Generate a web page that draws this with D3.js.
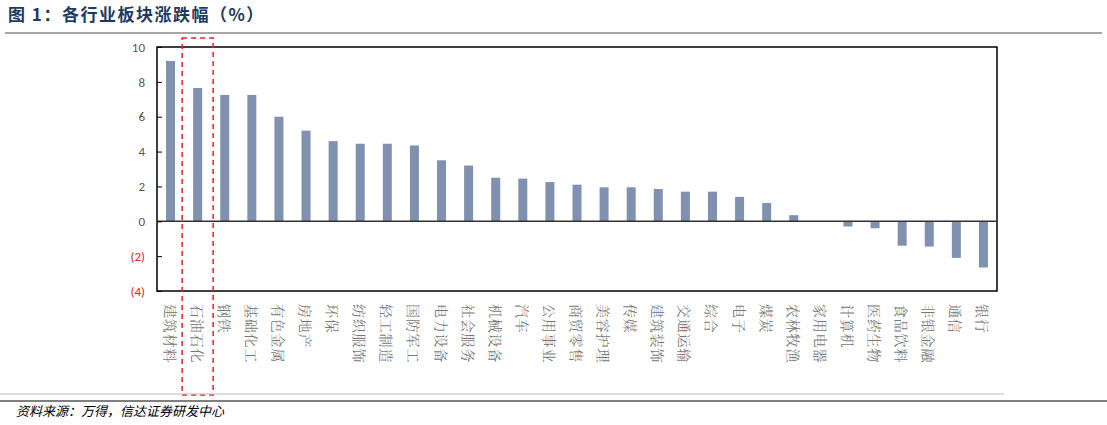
<!DOCTYPE html>
<html><head><meta charset="utf-8">
<script src="https://cdn.jsdelivr.net/npm/d3@7"></script>
<style>body{margin:0;background:#fff;}svg{display:block;font-family:"Noto Sans CJK SC",sans-serif;}</style>
</head><body><svg id="c" width="1107" height="425"></svg>
<script>
const categories=["建筑材料","石油石化","钢铁","基础化工","有色金属","房地产","环保","纺织服饰","轻工制造","国防军工","电力设备","社会服务","机械设备","汽车","公用事业","商贸零售","美容护理","传媒","建筑装饰","交通运输","综合","电子","煤炭","农林牧渔","家用电器","计算机","医药生物","食品饮料","非银金融","通信","银行"];
const values=[9.2,7.65,7.25,7.25,6.0,5.2,4.6,4.45,4.45,4.35,3.5,3.2,2.5,2.45,2.25,2.1,1.95,1.95,1.85,1.7,1.7,1.4,1.05,0.35,0.0,-0.3,-0.4,-1.4,-1.45,-2.1,-2.65];
const yTicks=[10,8,6,4,2,0,-2,-4];
const highlight="石油石化";

const svg=d3.select("#c");
const L=157,R=997,T=47,B=291;
const x=d3.scaleBand().domain(categories).range([L,R]);
const y=d3.scaleLinear().domain([-4,10]).range([B,T]);

svg.append("text").attr("x",8).attr("y",21).attr("fill","#1f3a5f").attr("font-size",17).attr("font-weight","bold").attr("letter-spacing",1.5).text("图 1：各行业板块涨跌幅（%）");
svg.append("line").attr("x1",5).attr("x2",1102).attr("y1",33).attr("y2",33).attr("stroke","#888").attr("stroke-width",1.5);

svg.selectAll("rect.bar").data(values).join("rect").attr("class","bar")
 .attr("x",(d,i)=>x(categories[i])+x.bandwidth()/2-4.5).attr("width",9)
 .attr("y",d=>y(Math.max(0,d))).attr("height",d=>Math.abs(y(d)-y(0)))
 .attr("fill","#8091b0");

svg.append("rect").attr("x",L).attr("y",T).attr("width",R-L).attr("height",B-T).attr("fill","none").attr("stroke","#000").attr("stroke-width",1.5);
svg.append("line").attr("x1",L).attr("x2",R).attr("y1",y(0)).attr("y2",y(0)).attr("stroke","#333").attr("stroke-width",1.5);

const ya=svg.append("g").attr("transform",`translate(${L},0)`).call(d3.axisLeft(y).tickValues(yTicks).tickSize(-5).tickPadding(12).tickFormat(d=>d<0?`(${-d})`:d));
ya.select(".domain").remove();
ya.selectAll("line").attr("stroke","#000");
ya.selectAll("text").attr("font-size",13).attr("font-family","Calibri,Carlito,'Liberation Sans',sans-serif")
 .attr("fill",d=>d<0?"#e8202a":"#555");

svg.selectAll("text.cat").data(categories).join("text").attr("class","cat")
 .attr("transform",d=>`translate(${x(d)+x.bandwidth()/2-6},${B+13}) rotate(90)`)
 .attr("font-size",14).attr("letter-spacing",0.8).attr("fill","#777").attr("font-family","'Noto Serif CJK SC','Noto Sans CJK SC',serif").text(d=>d);

const hx=x(highlight)+x.bandwidth()/2;
svg.append("rect").attr("x",hx-15.5).attr("y",38).attr("width",31).attr("height",357).attr("fill","none").attr("stroke","#e8202a").attr("stroke-width",1.5).attr("stroke-dasharray","5,4");

svg.append("line").attr("x1",0).attr("x2",1004).attr("y1",394).attr("y2",394).attr("stroke","#bbb");
svg.append("line").attr("x1",0).attr("x2",1107).attr("y1",401).attr("y2",401).attr("stroke","#000").attr("stroke-width",1.2);
svg.append("text").attr("x",16).attr("y",416).attr("font-size",13).attr("font-style","italic").attr("fill","#000").text("资料来源：万得，信达证券研发中心");
</script></body></html>
